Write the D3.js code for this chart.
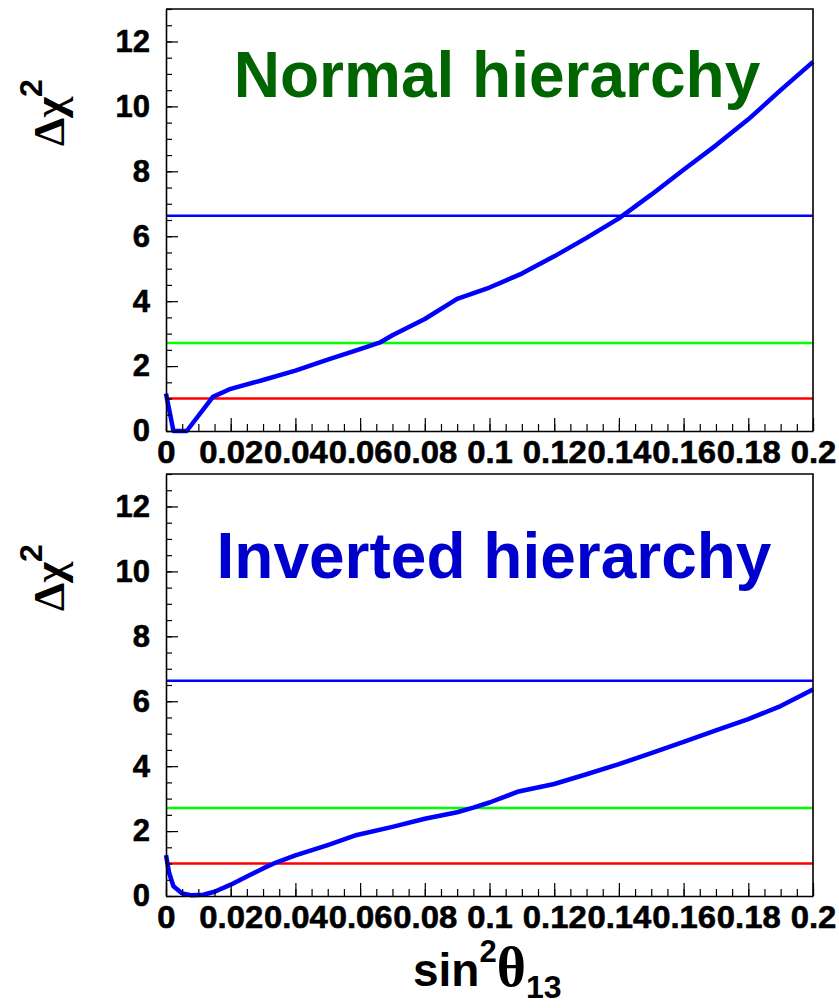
<!DOCTYPE html>
<html>
<head>
<meta charset="utf-8">
<script src="https://cdn.jsdelivr.net/npm/d3@7"></script>
<style>
  html, body { margin: 0; padding: 0; background: #fff; }
  svg { display: block; }
</style>
</head>
<body>
<svg id="chart" width="839" height="1008"></svg>
<script>
// sin^2(theta13) grid and Delta chi^2 profiles for each mass hierarchy
const sin2Normal = [0, 0.0023, 0.0064, 0.0145, 0.02, 0.03, 0.04, 0.05, 0.06, 0.066, 0.07, 0.08, 0.09, 0.1, 0.11, 0.12, 0.13, 0.14, 0.15, 0.16, 0.17, 0.18, 0.19, 0.2];
const chi2Normal = [1.15, 0, 0, 1.05, 1.3, 1.57, 1.86, 2.2, 2.52, 2.72, 2.95, 3.45, 4.07, 4.42, 4.85, 5.38, 5.95, 6.55, 7.28, 8.05, 8.8, 9.6, 10.5, 11.37];

const sin2Inverted = [0, 0.001, 0.0023, 0.005, 0.008, 0.0115, 0.015, 0.02, 0.025, 0.03, 0.034, 0.04, 0.05, 0.059, 0.07, 0.08, 0.09, 0.095, 0.1, 0.109, 0.12, 0.13, 0.14, 0.15, 0.16, 0.17, 0.18, 0.19, 0.2];
const chi2Inverted = [1.26, 0.7, 0.3, 0.08, 0.02, 0.04, 0.13, 0.35, 0.6, 0.85, 1.03, 1.25, 1.57, 1.88, 2.13, 2.38, 2.58, 2.72, 2.88, 3.22, 3.45, 3.75, 4.06, 4.4, 4.75, 5.1, 5.45, 5.85, 6.36];

// Confidence-level reference lines (1 dof): 68.3%, 90%, 99%
const levelValues = [1.0, 2.71, 6.63];
const levelColors = ["#ff0000", "#00ff00", "#0000ff"];

// Axis ticks
const xMajorTicks = [0, 0.02, 0.04, 0.06, 0.08, 0.1, 0.12, 0.14, 0.16, 0.18, 0.2];
const xTickLabels = ["0", "0.02", "0.04", "0.06", "0.08", "0.1", "0.12", "0.14", "0.16", "0.18", "0.2"];
const yMajorTicks = [0, 2, 4, 6, 8, 10, 12];
const yTickLabels = ["0", "2", "4", "6", "8", "10", "12"];

const panelTitles = ["Normal hierarchy", "Inverted hierarchy"];
const panelTitleColors = ["#006400", "#0000cc"];

const svg = d3.select("#chart");
const SANS = "'Liberation Sans', Arial, Helvetica, sans-serif";
const SERIF = "'Liberation Serif', 'Times New Roman', serif";

const left = 166, right = 813;
const panels = [
  { top: 9, bottom: 431, sin2: sin2Normal, chi2: chi2Normal, title: panelTitles[0], color: panelTitleColors[0], titleX: 497, titleY: 97 },
  { top: 474, bottom: 896, sin2: sin2Inverted, chi2: chi2Inverted, title: panelTitles[1], color: panelTitleColors[1], titleX: 494, titleY: 578 }
];

const xMinor = d3.range(0, 0.2001, 0.005).map(v => +v.toFixed(3));
const yMinor = d3.range(0, 13.01, 0.5).map(v => +v.toFixed(1));

function styleLabels(a) {
  a.selectAll("text")
    .attr("font-family", SANS).attr("font-weight", "bold")
    .attr("font-size", 31).attr("fill", "#000")
    .attr("stroke", "#000").attr("stroke-width", 0.6);
}

panels.forEach(p => {
  const x = d3.scaleLinear().domain([0, 0.2]).range([left, right]);
  const y = d3.scaleLinear().domain([0, 13]).range([p.bottom, p.top]);
  const g = svg.append("g");

  // CL lines
  g.selectAll("line.level").data(levelValues).join("line")
    .attr("class", "level")
    .attr("x1", x(0)).attr("x2", x(0.2))
    .attr("y1", d => y(d)).attr("y2", d => y(d))
    .attr("stroke", (d, i) => levelColors[i])
    .attr("stroke-width", 2.4);

  // Delta chi^2 curve (piecewise linear graph)
  const pts = p.sin2.map((s, i) => [s, p.chi2[i]]);
  g.append("path")
    .datum(pts)
    .attr("fill", "none")
    .attr("stroke", "#0000ff")
    .attr("stroke-width", 4.5)
    .attr("stroke-linejoin", "round")
    .attr("d", d3.line().x(d => x(d[0])).y(d => y(d[1])));

  // minor ticks
  g.append("g")
    .attr("transform", `translate(0,${p.bottom})`)
    .call(d3.axisBottom(x).tickValues(xMinor).tickSize(-7).tickFormat(""))
    .call(a => a.select(".domain").remove())
    .call(a => a.selectAll("line").attr("stroke", "#000").attr("stroke-width", 1.2));
  g.append("g")
    .attr("transform", `translate(${left},0)`)
    .call(d3.axisLeft(y).tickValues(yMinor).tickSize(-6).tickFormat(""))
    .call(a => a.select(".domain").remove())
    .call(a => a.selectAll("line").attr("stroke", "#000").attr("stroke-width", 1.2));

  // major ticks and labels
  g.append("g")
    .attr("transform", `translate(0,${p.bottom})`)
    .call(d3.axisBottom(x).tickValues(xMajorTicks).tickSizeInner(-13).tickSizeOuter(0).tickPadding(10)
      .tickFormat((d, i) => xTickLabels[i]))
    .call(a => a.select(".domain").attr("stroke", "#000").attr("stroke-width", 1.6))
    .call(a => a.selectAll("line").attr("stroke", "#000").attr("stroke-width", 1.2))
    .call(styleLabels)
    .call(a => a.selectAll("text").attr("transform", "scale(1.06,1)"));
  g.append("g")
    .attr("transform", `translate(${left},0)`)
    .call(d3.axisLeft(y).tickValues(yMajorTicks).tickSizeInner(-12).tickSizeOuter(0).tickPadding(16)
      .tickFormat((d, i) => yTickLabels[i]))
    .call(a => a.select(".domain").attr("stroke", "#000").attr("stroke-width", 1.6))
    .call(a => a.selectAll("line").attr("stroke", "#000").attr("stroke-width", 1.2))
    .call(styleLabels);

  // top and right frame
  g.append("path")
    .attr("d", `M${left},${p.top}H${right}V${p.bottom}`)
    .attr("fill", "none").attr("stroke", "#000").attr("stroke-width", 1.6);

  // panel title
  g.append("text")
    .attr("x", p.titleX).attr("y", p.titleY)
    .attr("text-anchor", "middle")
    .attr("font-family", SANS).attr("font-weight", "bold").attr("font-size", 64)
    .attr("fill", p.color)
    .text(p.title);

  // y-axis title: Delta chi^2
  const yt = g.append("text")
    .attr("transform", `translate(64,${p.top + 137}) rotate(-90)`)
    .attr("fill", "#000");
  yt.append("tspan").attr("font-family", SERIF).attr("font-weight", "bold").attr("font-size", 45).text("Δχ");
  yt.append("tspan").attr("font-family", SANS).attr("font-weight", "bold").attr("font-size", 32)
    .attr("dy", -22).text("2");
});

// x-axis title: sin^2 theta_13
const xt = svg.append("text").attr("x", 413).attr("y", 986).attr("fill", "#000")
  .attr("font-family", SANS).attr("font-weight", "bold");
xt.append("tspan").attr("font-size", 46).text("sin");
xt.append("tspan").attr("font-size", 31).attr("dy", -24).text("2");
xt.append("tspan").attr("font-size", 56).attr("font-family", SERIF).attr("dy", 24).text("θ");
xt.append("tspan").attr("font-size", 32).attr("dy", 12).text("13");
</script>
</body>
</html>
